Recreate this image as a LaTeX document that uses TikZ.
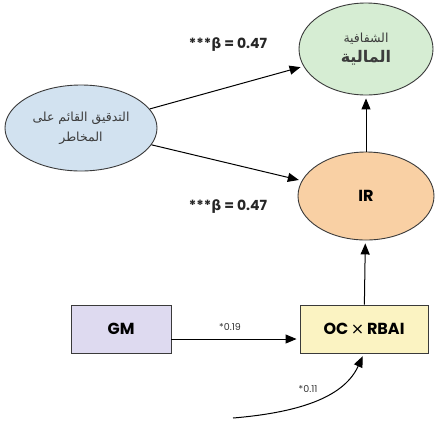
\documentclass[tikz,border=0pt]{standalone}
\usepackage{fontspec}
\setmainfont{Poppins}
\newfontfamily\arabicfont[Script=Arabic]{DejaVu Sans}
\newfontfamily\greekfont{DejaVu Sans}
\TeXXeTstate=1
\usetikzlibrary{shapes.geometric,arrows.meta}
\definecolor{cgreen}{HTML}{D6EDD3}
\definecolor{cblue}{HTML}{D2E2F0}
\definecolor{cpeach}{HTML}{F9D0A4}
\definecolor{clav}{HTML}{DEDAF0}
\definecolor{cyel}{HTML}{FBF3C2}
\definecolor{edge}{HTML}{3A3A3A}
\definecolor{atext}{HTML}{3C3C3C}
\begin{document}
\begin{tikzpicture}[x=1pt,y=-1pt,
  oval/.style={ellipse,draw=edge,line width=0.9pt,inner sep=0pt,align=center},
  boxn/.style={rectangle,draw=edge,line width=0.9pt,inner sep=0pt,minimum width=100pt,minimum height=48pt,font=\bfseries\fontsize{16}{18}\selectfont},
  arr/.style={line width=1pt,black,shorten >=3pt,-{Triangle[length=11pt,width=9pt]}},
  blabel/.style={text=black!85,font=\bfseries\fontsize{14}{16}\selectfont},
  slabel/.style={text=black!80,font=\fontsize{9.5}{11}\selectfont}]
\useasboundingbox (0,0) rectangle (435,421);
\fill[white] (0,0) rectangle (435,421);
\node[oval,fill=cgreen,text=atext,minimum width=134pt,minimum height=92pt] (T) at (366,49)
  {{\arabicfont\fontsize{12.5}{15}\selectfont\beginR الشفافية\endR}\\[5pt]{\arabicfont\bfseries\fontsize{16}{19}\selectfont\beginR المالية\endR}};
\node[oval,fill=cblue,text=atext,minimum width=152pt,minimum height=86pt] (L) at (81,128)
  {{\arabicfont\fontsize{12.5}{15}\selectfont\beginR التدقيق القائم على\endR}\\[6pt]{\arabicfont\fontsize{12.5}{15}\selectfont\beginR المخاطر\endR}};
\node[oval,fill=cpeach,minimum width=136pt,minimum height=88pt,font=\bfseries\fontsize{16}{18}\selectfont] (IR) at (366,196) {IR};
\node[boxn,fill=clav] (GM) at (121,329) {GM};
\node[boxn,fill=cyel,minimum width=128pt] (OC) at (364,329) {OC\,{\greekfont\mdseries ×}\,RBAI};
\coordinate (S) at (233,418);
\draw[arr] (L) -- (T);
\draw[arr] (L) -- (IR);
\draw[arr] (IR) -- (T);
\draw[arr] (OC) -- (IR);
\draw[arr] ([yshift=-10pt]GM.east) -- ([yshift=-10pt]OC.west);
\draw[arr] (S) .. controls (305,412) and (345,395) .. (OC.south);
\node[blabel] (l1) at (228,45) {***{\greekfont β} = 0.47};
\node[blabel] (l2) at (228,207) {***{\greekfont β} = 0.47};
\node[slabel] (l3) at (230,327) {*0.19};
\node[slabel] (l4) at (308,389) {*0.11};
\end{tikzpicture}
\end{document}
